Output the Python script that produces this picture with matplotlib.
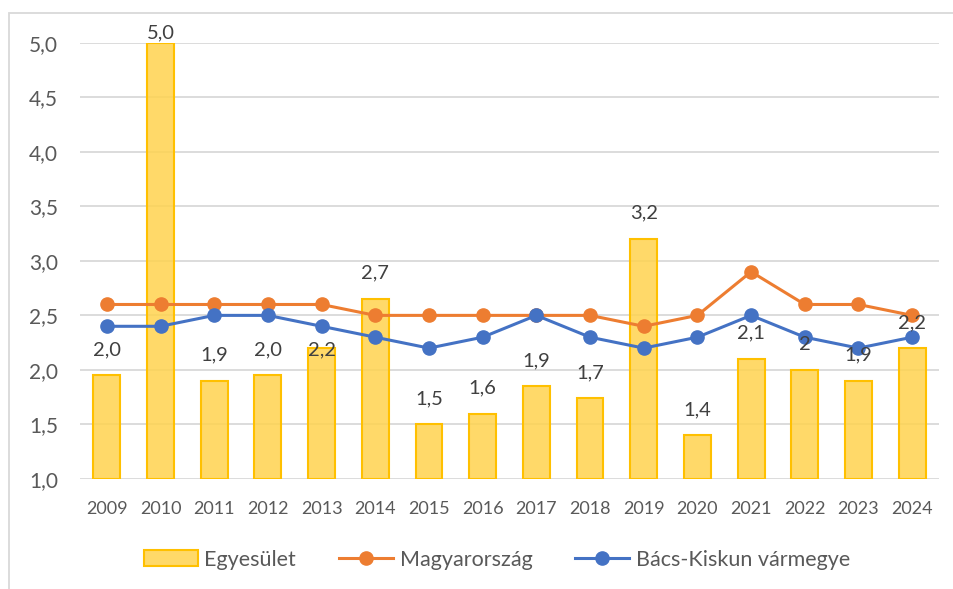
import matplotlib
matplotlib.use("Agg")
import matplotlib.pyplot as plt
from matplotlib.patches import Rectangle
from matplotlib.lines import Line2D
from matplotlib.colors import to_rgba
import numpy as np

years = ["2009", "2010", "2011", "2012", "2013", "2014", "2015", "2016",
         "2017", "2018", "2019", "2020", "2021", "2022", "2023", "2024"]
egyesulet = [1.95, 5.0, 1.9, 1.95, 2.2, 2.65, 1.5, 1.6, 1.85, 1.74, 3.2, 1.4, 2.1, 2.0, 1.9, 2.2]
egyesulet_labels = ["2,0", "5,0", "1,9", "2,0", "2,2", "2,7", "1,5", "1,6",
                    "1,9", "1,7", "3,2", "1,4", "2,1", "2", "1,9", "2,2"]
magyarorszag = [2.6, 2.6, 2.6, 2.6, 2.6, 2.5, 2.5, 2.5, 2.5, 2.5, 2.4, 2.5, 2.9, 2.6, 2.6, 2.5]
bacs_kiskun = [2.4, 2.4, 2.5, 2.5, 2.4, 2.3, 2.2, 2.3, 2.5, 2.3, 2.2, 2.3, 2.5, 2.3, 2.2, 2.3]
yticks = [1.0, 1.5, 2.0, 2.5, 3.0, 3.5, 4.0, 4.5, 5.0]
ytick_labels = ["1,0", "1,5", "2,0", "2,5", "3,0", "3,5", "4,0", "4,5", "5,0"]
series_names = ["Egyesület", "Magyarország", "Bács-Kiskun vármegye"]

# label placement tweaks (points above bar top), styling only
label_offset_default = 18.5
label_offset_special = {"2010": 7.0, "2013": -1.5}

plt.rcParams['font.family'] = ['Lato', 'DejaVu Sans']
TXT = "#595959"
GRID = "#d9d9d9"
BAR_FACE = to_rgba("#FFD34F", 0.85)
BAR_EDGE = "#FFC000"
ORANGE = "#ED7D31"
BLUE = "#4472C4"

W, H = 954, 589
fig = plt.figure(figsize=(W / 100, H / 100), dpi=100)
ax = fig.add_axes([80 / W, 1 - 479 / H, (939 - 80) / W, (479 - 42.7) / H])

# outer frame
fig.add_artist(Rectangle((9.5 / W, -0.05), 1.2, 1 - 13 / H + 0.05, transform=fig.transFigure,
                         fill=False, edgecolor=GRID, linewidth=1.3))

x = np.arange(len(years))
base = 1.0
heights = [v - base for v in egyesulet]
ax.bar(x, heights, bottom=base, width=0.5, color=BAR_FACE, edgecolor=BAR_EDGE,
       linewidth=1.5, zorder=2)
ax.plot(x, magyarorszag, color=ORANGE, lw=2.2, marker="o", markersize=9.5, zorder=3)
ax.plot(x, bacs_kiskun, color=BLUE, lw=2.2, marker="o", markersize=9.5, zorder=4)

for xi, yr, v, lab in zip(x, years, egyesulet, egyesulet_labels):
    off = label_offset_special.get(yr, label_offset_default)
    ax.annotate(lab, (xi, v), xytext=(0, off), textcoords="offset points",
                ha="center", va="center", fontsize=14.5, color="#404040", zorder=5)

ax.set_xlim(-0.5, len(years) - 0.5)
ax.set_ylim(1.0, 5.0)
ax.set_yticks(yticks)
ax.set_yticklabels(ytick_labels)
ax.set_xticks(x)
ax.set_xticklabels(years)
ax.tick_params(axis="y", length=0, pad=16, labelsize=15, labelcolor=TXT)
ax.tick_params(axis="x", length=0, pad=15.5, labelsize=13, labelcolor=TXT)
ax.grid(axis="y", color=GRID, linewidth=1.3, zorder=0)
ax.set_axisbelow(True)
for s in ax.spines.values():
    s.set_visible(False)

handles = [
    Rectangle((0, 0), 1, 1, facecolor=BAR_FACE, edgecolor=BAR_EDGE, linewidth=1.5),
    Line2D([], [], color=ORANGE, lw=2.2, marker="o", markersize=9.5),
    Line2D([], [], color=BLUE, lw=2.2, marker="o", markersize=9.5),
]
leg = fig.legend(handles, series_names, loc="center", bbox_to_anchor=(497 / W, 1 - 559.5 / H),
                 ncol=3, frameon=False, fontsize=15.5, handlelength=2.5, handleheight=0.75,
                 handletextpad=0.3, columnspacing=2.0, numpoints=1)
for t in leg.get_texts():
    t.set_color(TXT)

fig.savefig("out.png", dpi=100)
